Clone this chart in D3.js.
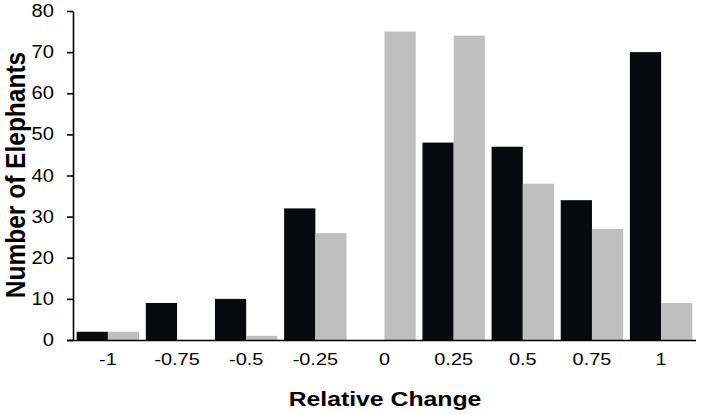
<!DOCTYPE html>
<html><head><meta charset="utf-8">
<script src="https://cdn.jsdelivr.net/npm/d3@7"></script>
<style>body{margin:0;background:#fff}svg{display:block}</style>
</head><body>
<svg id="c" width="701" height="414"></svg>
<script>
const categories = ["-1","-0.75","-0.5","-0.25","0","0.25","0.5","0.75","1"];
const seriesA = [2, 9, 10, 32, 0, 48, 47, 34, 70];
const seriesB = [2, 0, 1, 26, 75, 74, 38, 27, 9];
const yTicks = [0,10,20,30,40,50,60,70,80];
const colors = ["#07090c", "#bfbfbf"];

(function(){
const svg = d3.select("#c");
const mLeft = 73, mRight = 696, mTop = 11, mBottom = 340;
const x = d3.scaleBand().domain(categories).range([mLeft, mRight]).paddingInner(0.097).paddingOuter(0.053);
const xs = d3.scaleBand().domain([0,1]).range([0, x.bandwidth()]);
const y = d3.scaleLinear().domain([0,80]).range([mBottom, mTop]);

const series = [seriesA, seriesB];
series.forEach((s, si) => {
  svg.append("g").selectAll("rect").data(s).join("rect")
    .attr("x", (d,i) => x(categories[i]) + xs(si))
    .attr("width", xs.bandwidth())
    .attr("y", d => y(d))
    .attr("height", d => y(0) - y(d))
    .attr("fill", colors[si]);
});

const font = "'Liberation Sans', Arial, sans-serif";
const ya = svg.append("g").attr("transform", `translate(${mLeft},0)`)
  .call(d3.axisLeft(y).tickValues(yTicks).tickSize(6).tickSizeOuter(0).tickPadding(13));
const xa = svg.append("g").attr("transform", `translate(0,${mBottom})`)
  .call(d3.axisBottom(x).tickSize(0).tickPadding(13));
xa.select(".domain").attr("d", `M${mLeft-6},0.5H${mRight}`);
[[ya, 1.15, 17.5], [xa, 1.17, 17]].forEach(([a, sx, fs]) => {
  a.selectAll("path,line").attr("stroke", "#000").attr("stroke-width", 1.6);
  a.selectAll("text").attr("font-family", font).attr("font-size", fs).attr("fill", "#000")
    .each(function(){
      const t = d3.select(this);
      const tx = +t.attr("x") || 0, ty = +t.attr("y") || 0;
      t.attr("x", 0).attr("y", 0).attr("transform", `translate(${tx},${ty}) scale(${sx},1)`);
    });
});

svg.append("text").attr("transform", `translate(385,406) scale(1.18,1)`).attr("text-anchor","middle")
  .attr("font-family", font).attr("font-weight","bold").attr("font-size", 21).text("Relative Change");
svg.append("text").attr("transform", `translate(24.5,175) scale(1.1,1) rotate(-90)`).attr("text-anchor","middle")
  .attr("font-family", font).attr("font-weight","bold").attr("font-size", 24.5).text("Number of Elephants");
})();
</script>
</body></html>
